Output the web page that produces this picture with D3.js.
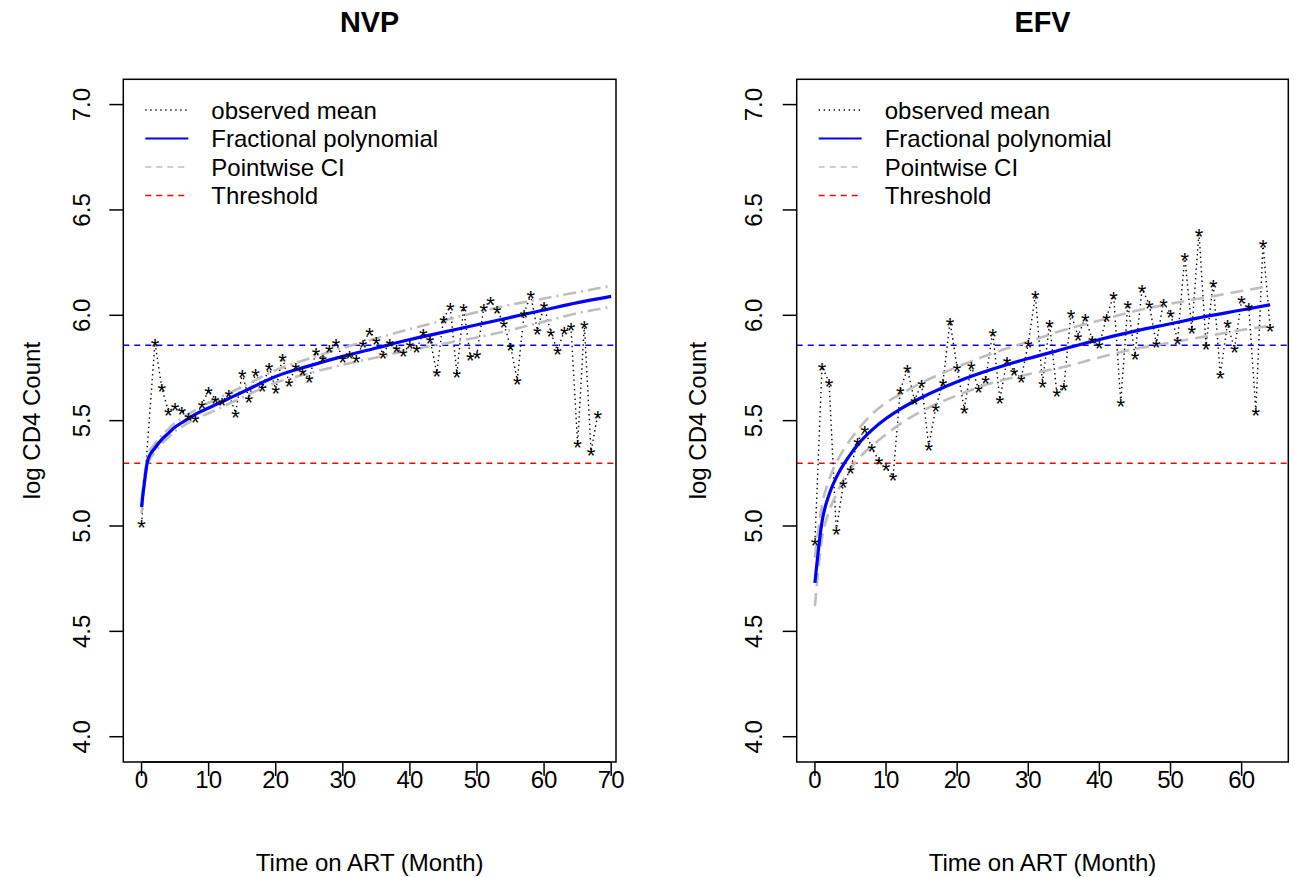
<!DOCTYPE html>
<html><head><meta charset="utf-8">
<script src="https://cdn.jsdelivr.net/npm/d3@7"></script>
<style>body{margin:0;background:#fff}svg{display:block}text{font-family:"Liberation Sans",Arial,Helvetica,sans-serif}</style>
</head><body>
<script>
// ---- data ----
const nvpObsMonths = [0,2,3,4,5,6,7,8,9,10,11,12,13,14,15,16,17,18,19,20,21,22,23,24,25,26,27,28,29,30,31,32,33,34,35,36,37,38,39,40,41,42,43,44,45,46,47,48,49,50,51,52,53,54,55,56,57,58,59,60,61,62,63,64,65,66,67,68];
const nvpObs = [5.01,5.87,5.658,5.544,5.565,5.549,5.52,5.512,5.576,5.644,5.60,5.59,5.628,5.536,5.723,5.604,5.726,5.655,5.755,5.647,5.80,5.68,5.758,5.734,5.698,5.826,5.793,5.842,5.871,5.793,5.813,5.797,5.865,5.924,5.881,5.816,5.871,5.84,5.824,5.859,5.84,5.916,5.887,5.726,5.982,6.042,5.723,6.035,5.805,5.816,6.035,6.071,6.027,5.959,5.853,5.691,6.006,6.098,5.928,6.046,5.919,5.832,5.927,5.947,5.389,5.955,5.354,5.528];
const nvpFitMonths = [0,1,2,3,4,5,6,8,10,12,15,20,25,30,35,40,45,50,55,60,65,70];
const nvpFit   = [5.09,5.32,5.37,5.41,5.44,5.47,5.49,5.53,5.56,5.59,5.635,5.71,5.76,5.805,5.845,5.885,5.92,5.955,5.99,6.025,6.06,6.09];
const nvpUpper = [5.12,5.34,5.39,5.43,5.46,5.49,5.51,5.55,5.585,5.615,5.66,5.74,5.795,5.845,5.89,5.935,5.975,6.015,6.05,6.08,6.11,6.14];
const nvpLower = [5.06,5.30,5.35,5.39,5.42,5.45,5.47,5.51,5.535,5.565,5.61,5.68,5.725,5.765,5.80,5.835,5.865,5.895,5.93,5.97,6.01,6.04];

const efvObsMonths = d3.range(0,65);
const efvObs = [4.924,5.757,5.681,4.978,5.20,5.27,5.402,5.457,5.37,5.31,5.28,5.235,5.644,5.745,5.596,5.675,5.378,5.563,5.683,5.97,5.752,5.555,5.76,5.65,5.694,5.92,5.60,5.786,5.734,5.702,5.865,6.098,5.678,5.963,5.634,5.66,6.008,5.90,5.99,5.884,5.861,5.99,6.094,5.587,6.053,5.808,6.125,6.053,5.865,6.061,6.008,5.881,6.28,5.932,6.395,5.857,6.152,5.718,5.96,5.84,6.074,6.042,5.544,6.34,5.943];
const efvFitMonths = [0,1,2,3,4,5,6,8,10,12,15,20,25,30,35,40,45,50,55,60,64];
const efvFit   = [4.73,5.02,5.15,5.23,5.29,5.34,5.385,5.455,5.51,5.555,5.61,5.685,5.745,5.795,5.84,5.885,5.925,5.96,5.995,6.025,6.05];
const efvUpper = [4.85,5.10,5.22,5.30,5.36,5.41,5.455,5.53,5.585,5.625,5.68,5.755,5.82,5.875,5.93,5.975,6.02,6.055,6.085,6.115,6.14];
const efvLower = [4.62,4.94,5.07,5.15,5.22,5.27,5.315,5.38,5.435,5.485,5.545,5.62,5.68,5.72,5.755,5.80,5.84,5.87,5.90,5.93,5.95];

const yTicks = [4.0,4.5,5.0,5.5,6.0,6.5,7.0];
const nvpXTicks = [0,10,20,30,40,50,60,70];
const efvXTicks = [0,10,20,30,40,50,60];
const thresholdLow = 5.298;   // log(200)
const thresholdHigh = 5.858;  // log(350)
const legendLabels = ["observed mean","Fractional polynomial","Pointwise CI","Threshold"];

// ---- drawing ----
const W = 1295, H = 877;
const svg = d3.select("body").append("svg").attr("width", W).attr("height", H);

const panels = [
  {title:"NVP", left:123.3, right:616, xdom:[0,68], ticks:nvpXTicks, obsX:nvpObsMonths, obs:nvpObs,
   fitX:nvpFitMonths, fit:nvpFit, up:nvpUpper, lo:nvpLower, ciDash:"13,5,2,5", tickLabX:90, yLabX:40},
  {title:"EFV", left:796.7, right:1288.3, xdom:[0,64], ticks:efvXTicks, obsX:efvObsMonths, obs:efvObs,
   fitX:efvFitMonths, fit:efvFit, up:efvUpper, lo:efvLower, ciDash:"13,7", tickLabX:762, yLabX:706}
];
const plotTop = 79.3, plotBottom = 762;

panels.forEach(p => {
  const pad = 0.04*(p.xdom[1]-p.xdom[0]);
  const x = d3.scaleLinear().domain([p.xdom[0]-pad, p.xdom[1]+pad]).range([p.left, p.right]);
  const y = d3.scaleLinear().domain([3.88, 7.12]).range([plotBottom, plotTop]);
  const g = svg.append("g");
  const clipId = "clip" + p.title;
  g.append("clipPath").attr("id", clipId).append("rect")
    .attr("x", p.left).attr("y", plotTop).attr("width", p.right-p.left).attr("height", plotBottom-plotTop);
  const pg = g.append("g").attr("clip-path", `url(#${clipId})`);

  pg.append("line").attr("x1", p.left).attr("x2", p.right).attr("y1", y(thresholdLow)).attr("y2", y(thresholdLow))
    .attr("stroke","#FF0000").attr("stroke-width",1.4).attr("stroke-dasharray","6,5");
  pg.append("line").attr("x1", p.left).attr("x2", p.right).attr("y1", y(thresholdHigh)).attr("y2", y(thresholdHigh))
    .attr("stroke","#0000FF").attr("stroke-width",1.4).attr("stroke-dasharray","6,5");

  const obsLine = d3.line().x((d,i)=>x(p.obsX[i])).y(d=>y(d));
  pg.append("path").attr("d", obsLine(p.obs)).attr("fill","none").attr("stroke","#000")
    .attr("stroke-width",1.4).attr("stroke-dasharray","1.4,3.4");

  const fitLine = d3.line().x((d,i)=>x(p.fitX[i])).y(d=>y(d)).curve(d3.curveMonotoneX);
  [p.up, p.lo].forEach(arr => {
    pg.append("path").attr("d", fitLine(arr)).attr("fill","none").attr("stroke","#BEBEBE")
      .attr("stroke-width",2.6).attr("stroke-dasharray",p.ciDash);
  });
  pg.append("path").attr("d", fitLine(p.fit)).attr("fill","none").attr("stroke","#0000FF").attr("stroke-width",3.2);

  pg.selectAll("text.star").data(p.obs).enter().append("text").attr("class","star")
    .attr("x",(d,i)=>x(p.obsX[i])).attr("y",d=>y(d)).attr("dy","0.52em")
    .attr("text-anchor","middle").attr("font-size",22).text("*");

  g.append("rect").attr("x",p.left).attr("y",plotTop).attr("width",p.right-p.left).attr("height",plotBottom-plotTop)
    .attr("fill","none").attr("stroke","#000").attr("stroke-width",1.5);

  const xa = g.append("g");
  xa.append("line").attr("x1",x(p.ticks[0])).attr("x2",x(p.ticks[p.ticks.length-1])).attr("y1",plotBottom).attr("y2",plotBottom)
    .attr("stroke","#000").attr("stroke-width",1.5);
  p.ticks.forEach(t => {
    xa.append("line").attr("x1",x(t)).attr("x2",x(t)).attr("y1",plotBottom).attr("y2",plotBottom+14).attr("stroke","#000").attr("stroke-width",1.5);
    xa.append("text").attr("x",x(t)).attr("y",788).attr("text-anchor","middle").attr("font-size",24).text(d3.format("d")(t));
  });
  yTicks.forEach(t => {
    g.append("line").attr("x1",p.left-14).attr("x2",p.left).attr("y1",y(t)).attr("y2",y(t)).attr("stroke","#000").attr("stroke-width",1.5);
    g.append("text").attr("transform",`translate(${p.tickLabX},${y(t)}) rotate(-90)`).attr("text-anchor","middle")
      .attr("font-size",24).text(d3.format(".1f")(t));
  });

  const cx = (p.left+p.right)/2;
  g.append("text").attr("x",cx).attr("y",32).attr("text-anchor","middle").attr("font-size",28.8).attr("font-weight","bold").text(p.title);
  g.append("text").attr("x",cx).attr("y",871).attr("text-anchor","middle").attr("font-size",24).text("Time on ART (Month)");
  g.append("text").attr("transform",`translate(${p.yLabX},${(plotTop+plotBottom)/2}) rotate(-90)`).attr("text-anchor","middle")
    .attr("font-size",24).text("log CD4 Count");

  const lx0 = p.left + 22, lx1 = p.left + 65, tx = p.left + 88;
  const rows = [110, 138.5, 167, 195.5];
  const styles = [
    {c:"#000", w:1.3, dash:"1.3,3.7"},
    {c:"#0000FF", w:2, dash:null},
    {c:"#BEBEBE", w:1.5, dash:"6,5"},
    {c:"#FF0000", w:1.5, dash:"6,5"}
  ];
  legendLabels.forEach((lab,i) => {
    const l = g.append("line").attr("x1",lx0).attr("x2",lx1).attr("y1",rows[i]).attr("y2",rows[i])
      .attr("stroke",styles[i].c).attr("stroke-width",styles[i].w);
    if (styles[i].dash) l.attr("stroke-dasharray",styles[i].dash);
    g.append("text").attr("x",tx).attr("y",rows[i]+8.5).attr("font-size",24).text(lab);
  });
});
</script>
</body></html>
